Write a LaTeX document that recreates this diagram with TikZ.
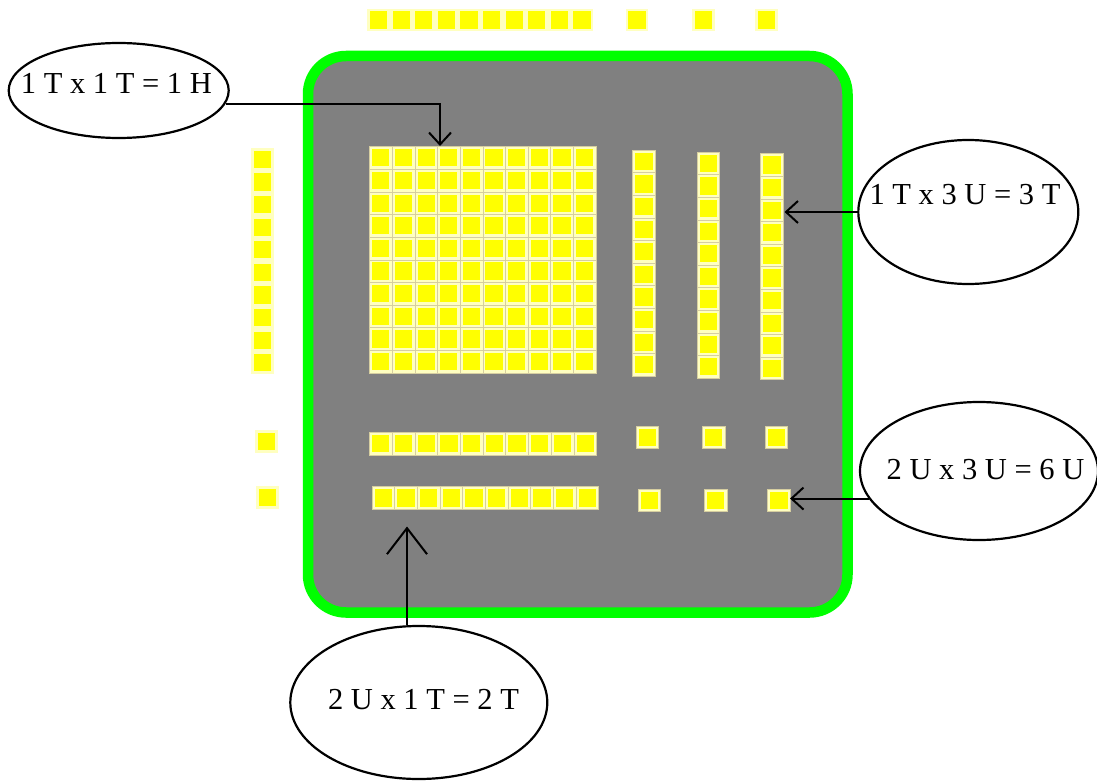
\documentclass[tikz,border=0pt]{standalone}
\usepackage{fontspec}
\setmainfont{Liberation Serif}
\usepackage{tikz}
\usetikzlibrary{shapes.geometric,arrows.meta,positioning}
\definecolor{boardgreen}{RGB}{0,255,0}
\definecolor{boardgrey}{RGB}{128,128,128}
\definecolor{cubeyellow}{RGB}{255,255,0}
\definecolor{cubepale}{RGB}{255,255,192}
\definecolor{cubetan}{RGB}{214,206,160}

\def\cubesize{22.65}
\def\cubegap{2.7}
\newcommand{\unitcube}[3][cuberim]{%
  \filldraw[#1] (#2,#3) rectangle ++(\cubesize,\cubesize);
  \fill[cubecore] (#2+\cubegap,#3+\cubegap) rectangle ++(\cubesize-2*\cubegap,\cubesize-2*\cubegap);}

\begin{document}
\begin{tikzpicture}[x=1pt, y=-1pt,
  board/.style={fill=boardgrey,draw=boardgreen,line width=10.5pt,rounded corners=38pt},
  cuberim/.style={fill=cubepale,draw=cubetan,line width=0.5pt},
  looserim/.style={fill=cubepale,draw=none},
  cubecore/.style={fill=cubeyellow},
  bubble/.style={ellipse,draw,line width=2.2pt,inner sep=0pt},
  note/.style={font=\fontsize{30.5}{36}\selectfont,inner sep=0pt,anchor=base},
  pointer/.style={draw,line width=2pt,-{Straight Barb[length=12pt,width=22pt]}},
  bigpointer/.style={draw,line width=2pt,-{Straight Barb[length=26pt,width=40pt]}}]
  \useasboundingbox (0,0) rectangle (1097,781);

  % board
  \path[board] (308,56) rectangle (847.5,612.5);

  % blocks on the board
  \foreach \i in {0,...,9}
    \foreach \j in {0,...,9}
      \unitcube{369.5+\i*\cubesize}{146.5+\j*\cubesize};
  \foreach \j in {0,...,9} {
    \unitcube{632.6}{150+\j*22.6}
    \unitcube{697}{152+\j*22.6}
    \unitcube{760.6}{153.6+\j*22.6}
  }
  \foreach \i in {0,...,9} {
    \unitcube{369.5+\i*22.7}{432.4}
    \unitcube{372+\i*22.65}{486.6}
  }
  \unitcube{636}{426}
  \unitcube{702.5}{426}
  \unitcube{765}{426}
  \unitcube{638}{488.8}
  \unitcube{704.3}{488.8}
  \unitcube{767.6}{488.8}

  % blocks off the board
  \foreach \i in {0,...,9}
    \unitcube[looserim]{367.3+\i*22.6}{8.7};
  \foreach \j in {0,...,9}
    \unitcube[looserim]{251.3}{148+\j*22.6};
  \unitcube[looserim]{625.7}{8.7}
  \unitcube[looserim]{692.3}{8.7}
  \unitcube[looserim]{755}{8.7}
  \unitcube[looserim]{255}{430}
  \unitcube[looserim]{256.3}{486}

  % notes
  \node[bubble,minimum width=220pt,minimum height=95pt] (hundrednote) at (118.7,90.5) {};
  \node[bubble,minimum width=220pt,minimum height=144pt] (tensnote) at (968.3,212) {};
  \node[bubble,minimum width=238pt,minimum height=138pt] (unitnote) at (979,471) {};
  \node[bubble,minimum width=257pt,minimum height=153pt] (rodnote) at (418.8,702.5) {};
  \node[note] (hundredtext) at (116.4,93.3) {1 T x 1 T = 1 H};
  \node[note] (tenstext) at (965,204) {1 T x 3 U = 3 T};
  \node[note] (unittext) at (985.5,479.3) {2 U x 3 U = 6 U};
  \node[note] (rodtext) at (423.5,709.3) {2 U x 1 T = 2 T};

  % arrows
  \coordinate (hundredtop) at (440,146);
  \coordinate (tentip) at (784.5,212);
  \coordinate (onetip) at (790,499.5);
  \coordinate (rodbase) at (407,526.5);
  \draw[pointer] (hundrednote.-7) -| (hundredtop);
  \draw[pointer] (tensnote.west) -- (tentip);
  \draw[pointer] (unitnote.194) -- (unitnote.194 -| onetip);
  \draw[bigpointer] (rodbase |- rodnote.north) -- (rodbase);
\end{tikzpicture}
\end{document}
